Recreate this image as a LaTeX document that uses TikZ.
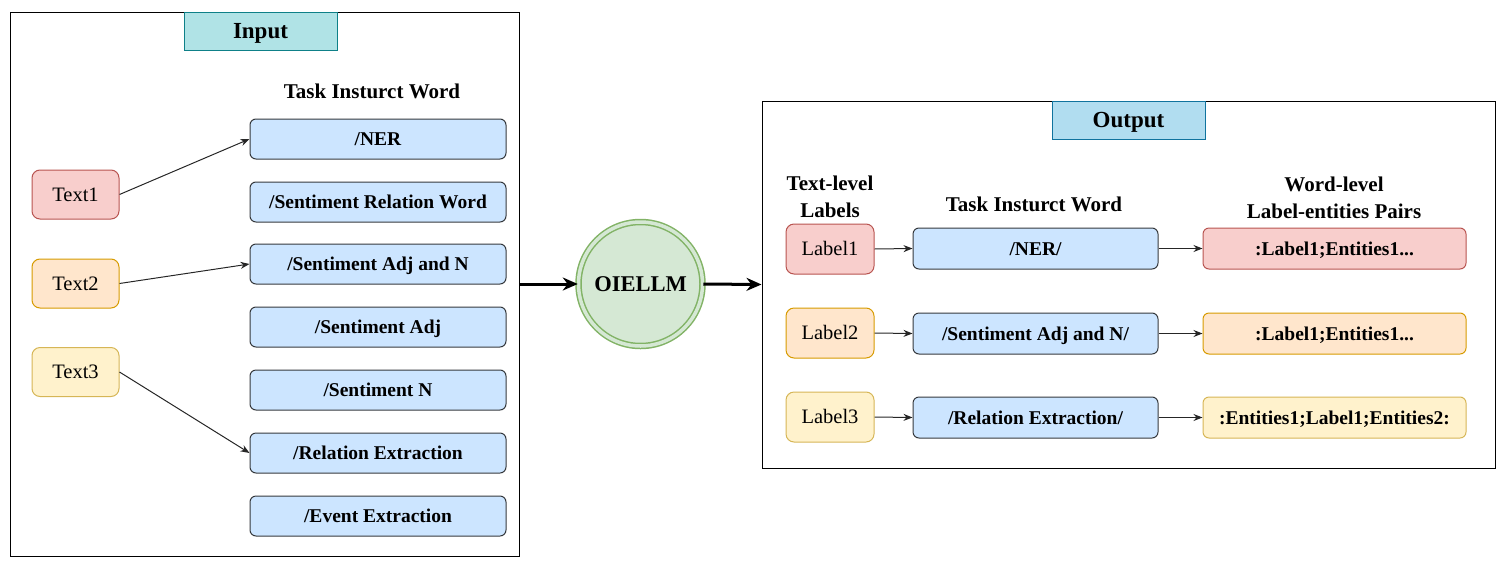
\documentclass[tikz,border=0pt]{standalone}
\usepackage{fontspec}
\setmainfont{Liberation Serif}
\usetikzlibrary{arrows.meta}
\definecolor{tealfill}{HTML}{B0E3E6}
\definecolor{tealline}{HTML}{0E8088}
\definecolor{skyfill}{HTML}{B1DDF0}
\definecolor{skyline}{HTML}{10739E}
\definecolor{bluefill}{HTML}{CCE5FF}
\definecolor{blueline}{HTML}{36393D}
\definecolor{redfill}{HTML}{F8CECC}
\definecolor{redline}{HTML}{B85450}
\definecolor{orfill}{HTML}{FFE6CC}
\definecolor{orline}{HTML}{D79B00}
\definecolor{yefill}{HTML}{FFF2CC}
\definecolor{yeline}{HTML}{D6B656}
\definecolor{grfill}{HTML}{D5E8D4}
\definecolor{grline}{HTML}{82B366}
\tikzset{
  container/.style={draw=black, line width=1pt, inner sep=0pt},
  titlebox/.style={text height=20.5pt, text depth=4.9pt, line width=1pt, minimum width=153pt,
    minimum height=38pt, inner sep=0pt, font=\fontsize{23}{26}\selectfont\bfseries},
  heading/.style={inner sep=0pt, align=center, font=\fontsize{21}{27}\selectfont\bfseries},
  taskbox/.style={text height=17.4pt, text depth=4.2pt, draw=blueline, fill=bluefill,
    rounded corners=6pt, line width=1pt, inner sep=0pt, font=\fontsize{19.5}{22}\selectfont\bfseries},
  textbox/.style={text height=18.2pt, text depth=4.4pt, rounded corners=8pt, line width=1pt,
    minimum width=87pt, minimum height=49pt, inner sep=0pt, font=\fontsize{20.5}{23}\selectfont},
  thinarrow/.style={-{Stealth[length=9pt,width=7pt]}, line width=1pt, draw=black!85},
  thickarrow/.style={-{Stealth[length=15pt,width=13pt]}, line width=3pt},
}
\begin{document}
\begin{tikzpicture}[x=1pt,y=-1pt]
\useasboundingbox (0,0) rectangle (1503,565);
% ---------- Input ----------
\node[container, minimum width=509pt, minimum height=544pt] (inbox) at (264.5,284) {};
\node[titlebox, draw=tealline, fill=tealfill] (intitle) at (260.5,31) {Input};
\node[heading] (inhead) at (372,91) {Task Insturct Word};
\foreach \n/\y/\t in {t1/139/{/NER}, t2/202/{/Sentiment Relation Word}, t3/264/{/Sentiment Adj and N},
  t4/327/{/Sentiment Adj}, t5/390/{/Sentiment N}, t6/453/{/Relation Extraction}, t7/516/{/Event Extraction}}
  \node[taskbox, minimum width=256pt, minimum height=40pt] (\n) at (378,\y) {\t};
\node[textbox, draw=redline, fill=redfill] (x1) at (75.5,194.5) {Text1};
\node[textbox, draw=orline, fill=orfill] (x2) at (75.5,283.5) {Text2};
\node[textbox, draw=yeline, fill=yefill] (x3) at (75.5,372) {Text3};
\draw[thinarrow] (x1.east) -- (t1.west);
\draw[thinarrow] (x2.east) -- (t3.west);
\draw[thinarrow] (x3.east) -- (t6.west);
% ---------- OIELLM ----------
\node[circle, draw=grline, fill=grfill, line width=1.5pt, double=grfill, double distance=3.5pt,
  minimum size=124pt, inner sep=0pt, font=\fontsize{22.5}{25}\selectfont\bfseries] (llm) at (640.5,284) {OIELLM};
% ---------- Output ----------
\node[container, minimum width=733pt, minimum height=367pt] (outbox) at (1128.5,284.5) {};
\node[titlebox, draw=skyline, fill=skyfill] (outtitle) at (1128.5,120) {Output};
\node[heading] (h1) at (830,197) {Text-level\\Labels};
\node[heading] (h2) at (1034,204) {Task Insturct Word};
\node[heading] (h3) at (1334,198) {Word-level\\Label-entities Pairs};
\node[textbox, draw=redline, fill=redfill, minimum width=88pt, minimum height=50pt] (l1) at (830,249) {Label1};
\node[textbox, draw=orline, fill=orfill, minimum width=88pt, minimum height=50pt] (l2) at (830,333) {Label2};
\node[textbox, draw=yeline, fill=yefill, minimum width=88pt, minimum height=50pt] (l3) at (830,417) {Label3};
\node[taskbox, minimum width=245pt, minimum height=41pt] (m1) at (1035.5,248.5) {/NER/};
\node[taskbox, minimum width=245pt, minimum height=41pt] (m2) at (1035.5,333.5) {/Sentiment Adj and N/};
\node[taskbox, minimum width=245pt, minimum height=41pt] (m3) at (1035.5,417.5) {/Relation Extraction/};
\node[taskbox, draw=redline, fill=redfill, minimum width=263pt, minimum height=41pt] (r1) at (1334.5,248.5) {:Label1;Entities1...};
\node[taskbox, draw=orline, fill=orfill, minimum width=263pt, minimum height=41pt] (r2) at (1334.5,333.5) {:Label1;Entities1...};
\node[taskbox, draw=yeline, fill=yefill, minimum width=263pt, minimum height=41pt] (r3) at (1334.5,417.5) {:Entities1;Label1;Entities2:};
\foreach \i in {1,2,3} {
  \draw[thinarrow] (l\i.east) -- (m\i.west);
  \draw[thinarrow] (m\i.east) -- (r\i.west);
}
% ---------- thick arrows ----------
\draw[thickarrow] (inbox.east) -- (llm.west);
\draw[thickarrow] (llm.east) -- (outbox.west);
\end{tikzpicture}
\end{document}
